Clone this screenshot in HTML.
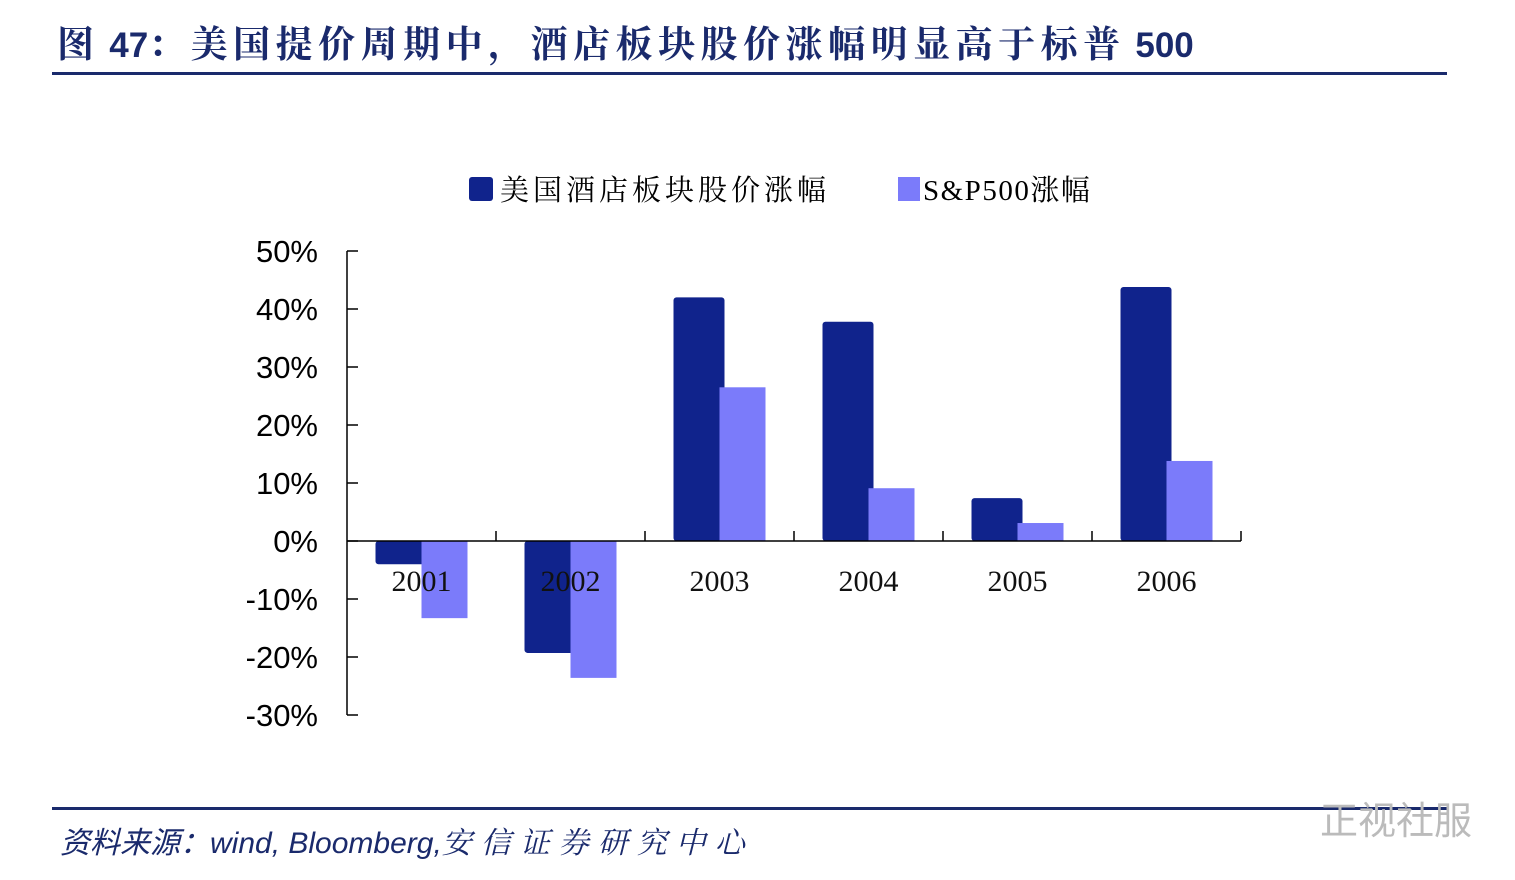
<!DOCTYPE html>
<html><head><meta charset="utf-8"><style>
body{margin:0;width:1515px;height:880px;background:#fff;overflow:hidden;position:relative;font-family:"Liberation Sans","Noto Sans CJK SC",sans-serif}
.t{position:absolute}
.c{font-size:37px;letter-spacing:5.5px;font-family:'Noto Serif CJK SC',serif}
</style></head><body>
<div class="t" style="left:57px;top:14px;font-size:35px;font-weight:bold;color:#1a2a6c;white-space:nowrap"><span class="c">图</span> 47<span class="c">：美国提价周期中，酒店板块股价涨幅明显高于标普</span> 500</div>
<div class="t" style="left:52px;top:72px;width:1395px;height:3px;background:#1a2a6c"></div>
<div class="t" style="left:52px;top:807px;width:1395px;height:3px;background:#1a2a6c"></div>
<div class="t" style="left:60px;top:818px;font-size:30px;font-style:italic;color:#1a2a6c;white-space:nowrap">资料来源：wind, Bloomberg,<span style="font-family:'Noto Serif CJK SC',serif;font-size:30px;letter-spacing:9px">安信证券研究中心</span></div>
<div class="t" style="left:1320px;top:790px;font-size:38px;color:#bbb">正视社服</div>
<svg class="t" style="left:0;top:0" width="1515" height="880" id="chart"></svg>
<script>
const categories=["2001","2002","2003","2004","2005","2006"];
const hotelValues=[-4,-19.3,42,37.8,7.4,43.8];
const spValues=[-13.3,-23.6,26.5,9.1,3.1,13.8];
const yTicks=[50,40,30,20,10,0,-10,-20,-30];
const svg=document.getElementById('chart');
const NS='http://www.w3.org/2000/svg';
const y=v=>541-v*5.8;
const x0=347,cw=149;
function mk(t,a,p){const e=document.createElementNS(NS,t);for(const k in a)e.setAttribute(k,a[k]);(p||svg).appendChild(e);return e;}
let ax=mk('line',{x1:x0,y1:y(50),x2:x0,y2:y(-30),stroke:'#000','stroke-width':1.5});


yTicks.forEach(v=>{
 const tk=mk('line',{x1:x0,y1:y(v),x2:x0+11,y2:y(v),stroke:'#000','stroke-width':1.5});
 
 
 const tx=mk('text',{x:318,y:y(v)+11,'text-anchor':'end','font-size':31,fill:'#000','font-family':'Liberation Sans, sans-serif'});
 tx.textContent=v+'%';
 
 
});
categories.forEach((c,i)=>{
 const cx=x0+cw*i+cw/2;
 const b1=mk('rect',{x:cx-46,y:Math.min(y(hotelValues[i]),y(0)),width:51,height:Math.abs(y(hotelValues[i])-y(0)),fill:'#10238c',rx:3});
 
 
 const b2=mk('rect',{x:cx,y:Math.min(y(spValues[i]),y(0)),width:46,height:Math.abs(y(spValues[i])-y(0)),fill:'#7b7bfa'});
 
 
 const tx=mk('text',{x:cx,y:591,'text-anchor':'middle','font-size':30,fill:'#111','font-family':'Liberation Serif, serif'});
 tx.textContent=c;
 
 
});
const xa=mk('line',{x1:x0,y1:y(0),x2:x0+cw*6,y2:y(0),stroke:'#000','stroke-width':1.5});


for(let i=1;i<=6;i++){const t=mk('line',{x1:x0+cw*i,y1:y(0),x2:x0+cw*i,y2:y(0)-10,stroke:'#000','stroke-width':1.5});
 
 }
const l1=mk('rect',{x:469,y:177,width:24,height:24,fill:'#10238c',rx:3});


const lt1=mk('text',{x:500,y:200,'font-size':29,fill:'#000','font-family':'Noto Serif CJK SC, serif','letter-spacing':4});lt1.textContent='美国酒店板块股价涨幅';


const l2=mk('rect',{x:898,y:177,width:22,height:24,fill:'#7b7bfa'});


const lt2=mk('text',{x:923,y:200,'font-size':29,fill:'#000','font-family':'Liberation Serif, Noto Serif CJK SC, serif','letter-spacing':1.5});lt2.textContent='S&P500涨幅';


</script>
</body></html>
